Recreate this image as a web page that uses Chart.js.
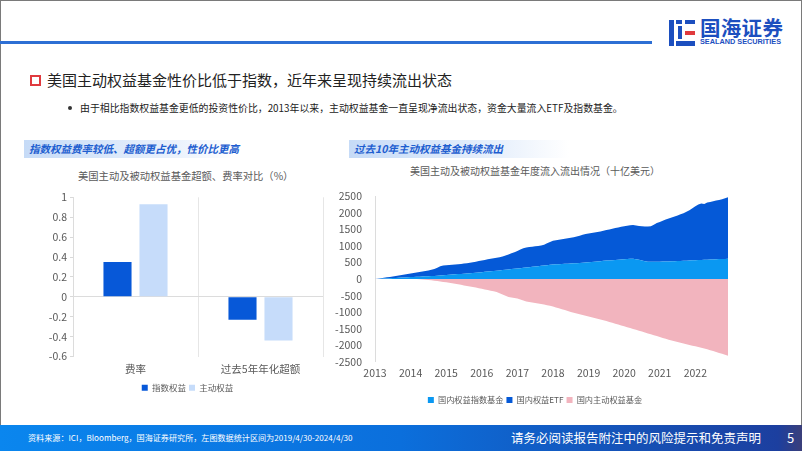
<!DOCTYPE html>
<html>
<head>
<meta charset="utf-8">
<script src="https://cdn.jsdelivr.net/npm/chart.js@4.4.1/dist/chart.umd.min.js"></script>
<style>
  body { margin: 0; font-family: "Noto Sans CJK SC", "Noto Sans", sans-serif; }
  #page { position: relative; width: 802px; height: 451px; overflow: hidden; background: #fff; }
  #frame { position: absolute; left: 0; top: 0; width: 800px; height: 449px; border: 1px solid #7a7a7a; }
  .abs { position: absolute; white-space: nowrap; }
  #topline { left: 0; top: 41px; width: 652px; height: 3px; background: #2d6fd4; }
  #title { left: 47px; top: 70px; font-size: 15px; color: #222; line-height: 20px; }
  #titlebox { left: 30px; top: 75px; width: 7px; height: 7px; border: 2px solid #e03a3e; }
  #bullet { left: 68px; top: 106px; width: 4px; height: 4px; border-radius: 2px; background: #333; }
  #bullettext { left: 80px; top: 101px; font-size: 9.9px; color: #222; line-height: 14px; }
  .subhead { top: 140px; height: 18px; line-height: 18px; font-size: 10.5px; font-weight: bold; font-style: italic;
    color: #1d5ed0; padding-left: 5px; background: linear-gradient(to right, #c6dbf7, #e9f1fc 70%, #ffffff); }
  .ctitle { font-size: 10.3px; color: #595959; line-height: 14px; }
  #footer { left: 0; top: 425px; width: 802px; height: 26px; background: linear-gradient(to right, #0a86ee, #0b6fdc 50%, #1c3f9f 97%, #3b3f7a); }
  #src { left: 28px; top: 431px; font-size: 8.1px; color: #fff; line-height: 14px; }
  #disc { left: 511px; top: 429px; font-size: 12.5px; color: #fff; line-height: 18px; }
  #pnum { left: 787px; top: 429px; font-size: 13px; color: #fff; line-height: 18px; }
  #logotext { left: 700px; top: 16px; font-size: 20.5px; font-weight: bold; color: #1c4fbf; line-height: 22px; letter-spacing: 0.3px; }
  #logosub { left: 700px; top: 38px; font-size: 7.3px; font-weight: bold; color: #1c4fbf; line-height: 8px; font-family: "Liberation Sans", sans-serif; }
  .lg { position: absolute; }
  canvas { position: absolute; }
</style>
</head>
<body>
<div id="page">
  <div id="frame"></div>
  <div class="abs" id="topline"></div>

  <div class="lg" style="left:669px;top:20px;width:5px;height:26px;background:#1c4fbf"></div>
  <div class="lg" style="left:676px;top:20px;width:6px;height:4px;background:#1c4fbf"></div>
  <div class="lg" style="left:678px;top:26px;width:4px;height:13px;background:#1c4fbf"></div>
  <div class="lg" style="left:685px;top:20px;width:10px;height:4px;background:#1c4fbf"></div>
  <div class="lg" style="left:685px;top:31px;width:10px;height:4px;background:#e03a3e"></div>
  <div class="lg" style="left:676px;top:41px;width:19px;height:5px;background:#1c4fbf"></div>
  <div class="abs" id="logotext">国海证券</div>
  <div class="abs" id="logosub">SEALAND SECURITIES</div>

  <div class="abs" id="titlebox"></div>
  <div class="abs" id="title">美国主动权益基金性价比低于指数，近年来呈现持续流出状态</div>
  <div class="abs" id="bullet"></div>
  <div class="abs" id="bullettext">由于相比指数权益基金更低的投资性价比，2013年以来，主动权益基金一直呈现净流出状态，资金大量流入ETF及指数基金。</div>

  <div class="abs subhead" style="left:24px;width:205px">指数权益费率较低、超额更占优，性价比更高</div>
  <div class="abs subhead" style="left:349px;width:215px">过去10年主动权益基金持续流出</div>

  <div class="abs ctitle" style="left:78px;top:169px">美国主动及被动权益基金超额、费率对比（%）</div>
  <div class="abs ctitle" style="left:410px;top:164px;font-size:10px">美国主动及被动权益基金年度流入流出情况（十亿美元）</div>

  <canvas id="left" width="320" height="214" style="left:20px;top:188px"></canvas>
  <canvas id="right" width="410" height="229" style="left:330px;top:185px"></canvas>

  <div class="abs" id="footer"></div>
  <div class="abs" id="src">资料来源：ICI，Bloomberg，国海证券研究所，左图数据统计区间为2019/4/30-2024/4/30</div>
  <div class="abs" id="disc">请务必阅读报告附注中的风险提示和免责声明</div>
  <div class="abs" id="pnum">5</div>
</div>

<script>
// 左图：费率 / 超额
const barCategories = ['费率', '过去5年年化超额'];
const indexEquity = [0.35, -0.23];
const activeEquity = [0.93, -0.44];

// 右图：累计流入流出（十亿美元），月度，2013-2022
const years = ['2013', '2014', '2015', '2016', '2017', '2018', '2019', '2020', '2021', '2022'];
const indexFund = [
  0, 5, 10, 15, 20, 25, 30, 35, 40, 45, 50, 55,
  60, 64, 68, 73, 77, 82, 86, 91, 95, 100, 107, 114,
  121, 128, 135, 142, 149, 156, 163, 170, 178, 185, 192, 200,
  208, 217, 226, 235, 244, 253, 262, 271, 280, 290, 300, 310,
  320, 330, 340, 350, 360, 370, 380, 390, 400, 410, 420, 430,
  440, 445, 450, 455, 460, 465, 470, 475, 480, 485, 490, 498,
  506, 515, 524, 533, 541, 550, 557, 563, 570, 577, 583, 590,
  597, 604, 610, 612, 600, 580, 560, 540, 525, 520, 522, 524,
  526, 528, 530, 533, 536, 539, 542, 545, 550, 555, 560, 565,
  570, 574, 578, 582, 586, 590, 594, 598, 602, 605, 608, 610
];
const etf = [
  0, 7, 15, 23, 32, 40, 50, 60, 68, 77, 90, 100,
  110, 121, 132, 142, 151, 163, 176, 189, 205, 240, 278, 296,
  297, 297, 297, 298, 301, 302, 305, 310, 312, 320, 333, 345,
  352, 358, 369, 375, 384, 392, 400, 409, 430, 455, 480, 500,
  530, 565, 590, 600, 605, 608, 610, 610, 610, 630, 660, 690,
  720, 730, 740, 745, 755, 765, 775, 785, 805, 825, 845, 862,
  869, 875, 881, 892, 899, 910, 923, 937, 950, 963, 977, 990,
  998, 1006, 1015, 1018, 1020, 1025, 1035, 1050, 1060, 1075, 1118, 1166,
  1194, 1232, 1270, 1297, 1324, 1351, 1378, 1410, 1440, 1475, 1520, 1575,
  1630, 1676, 1702, 1688, 1724, 1740, 1756, 1772, 1783, 1805, 1832, 1860
];
const activeFund = [
  0, 0, 0, 0, 0, 0, 0, 0, 0, 0, 0, 0,
  0, 0, 0, -5, -12, -18, -25, -37, -50, -62, -75, -88,
  -100, -112, -125, -142, -158, -175, -192, -208, -225, -242, -258, -275,
  -294, -313, -332, -352, -371, -390, -428, -465, -503, -540, -557, -573,
  -590, -620, -650, -680, -694, -708, -722, -736, -750, -770, -790, -810,
  -830, -857, -884, -911, -938, -965, -993, -1020, -1043, -1065, -1088, -1111,
  -1134, -1156, -1179, -1202, -1225, -1247, -1270, -1296, -1323, -1349, -1375, -1402,
  -1428, -1454, -1481, -1507, -1534, -1560, -1587, -1615, -1642, -1669, -1696, -1724,
  -1751, -1778, -1805, -1833, -1860, -1882, -1903, -1925, -1947, -1968, -1990, -2012,
  -2033, -2055, -2077, -2098, -2120, -2148, -2176, -2204, -2231, -2259, -2287, -2315
];
const months = ['01', '02', '03', '04', '05', '06', '07', '08', '09', '10', '11', '12'];

Chart.defaults.font.family = '"Noto Sans CJK SC", "Noto Sans", sans-serif';
Chart.defaults.color = '#595959';
Chart.defaults.animation = false;

// 图例在原图里不是正好居中，布局完成后整体平移一点
const shiftLegend = (dx) => ({
  id: 'shiftLegend',
  afterLayout(chart) {
    if (chart.legend) {
      chart.legend.left += dx;
      chart.legend.right += dx;
    }
  }
});

const leftChart = new Chart(document.getElementById('left'), {
  type: 'bar',
  data: {
    labels: barCategories,
    datasets: [
      { label: '指数权益', data: indexEquity, backgroundColor: '#0758d8' },
      { label: '主动权益', data: activeEquity, backgroundColor: '#c6dcfa' }
    ]
  },
  plugins: [shiftLegend(16)],
  options: {
    responsive: false,
    categoryPercentage: 0.576,
    barPercentage: 0.78,
    layout: { padding: { top: 7, right: 17, left: 0, bottom: 0 } },
    plugins: {
      legend: {
        position: 'bottom',
        labels: { boxWidth: 6, boxHeight: 6, padding: 3, font: { size: 8.5 } }
      },
      tooltip: { enabled: false }
    },
    scales: {
      x: {
        grid: { color: '#e6e6e6', drawTicks: false },
        border: { display: false },
        ticks: { font: { size: 10.5 }, padding: 6 },
        afterFit: (s) => { s.height = 24; }
      },
      y: {
        min: -0.6,
        max: 1,
        grid: {
          color: (c) => (c.tick && c.tick.value === 0 ? '#dcdcdc' : 'transparent'),
          tickColor: '#d9d9d9',
          tickLength: 3
        },
        border: { display: true, color: '#dcdcdc' },
        ticks: {
          stepSize: 0.2,
          padding: 3,
          font: { size: 10.5 },
          callback: (v) => String(Math.round(v * 10) / 10)
        },
        afterFit: (s) => { s.width = 53; }
      }
    }
  }
});

const monthLabels = [];
years.forEach((y) => months.forEach((m) => monthLabels.push(y + '-' + m)));

const rightChart = new Chart(document.getElementById('right'), {
  type: 'line',
  data: {
    labels: monthLabels,
    datasets: [
      { label: '国内权益指数基金', data: indexFund, stack: 'in', fill: 'origin',
        backgroundColor: '#0a98f2', borderColor: 'transparent', borderWidth: 0, pointRadius: 0 },
      { label: '国内权益ETF', data: etf, stack: 'in', fill: '-1',
        backgroundColor: '#0559d7', borderColor: 'transparent', borderWidth: 0, pointRadius: 0 },
      { label: '国内主动权益基金', data: activeFund, stack: 'out', fill: 'origin',
        backgroundColor: '#f2b4be', borderColor: 'transparent', borderWidth: 0, pointRadius: 0 }
    ]
  },
  plugins: [shiftLegend(6)],
  options: {
    responsive: false,
    layout: { padding: { top: 8, right: 12, left: 0, bottom: 0 } },
    plugins: {
      legend: {
        position: 'bottom',
        labels: { boxWidth: 6, boxHeight: 6, padding: 3, font: { size: 8.2 } }
      },
      tooltip: { enabled: false }
    },
    scales: {
      x: {
        grid: { display: false, drawTicks: false },
        border: { display: false },
        ticks: {
          autoSkip: false,
          maxRotation: 0,
          padding: 5,
          font: { size: 10.5 },
          callback: (v, i) => (i % 12 === 0 ? years[i / 12] : null)
        },
        afterFit: (s) => { s.height = 31; }
      },
      y: {
        stacked: true,
        min: -2500,
        max: 2500,
        grid: { display: false },
        border: { display: true, color: '#dcdcdc' },
        ticks: { stepSize: 500, padding: 5, font: { size: 10.5 }, callback: (v) => String(v) },
        afterFit: (s) => { s.width = 45; }
      }
    }
  }
});
</script>
</body>
</html>
